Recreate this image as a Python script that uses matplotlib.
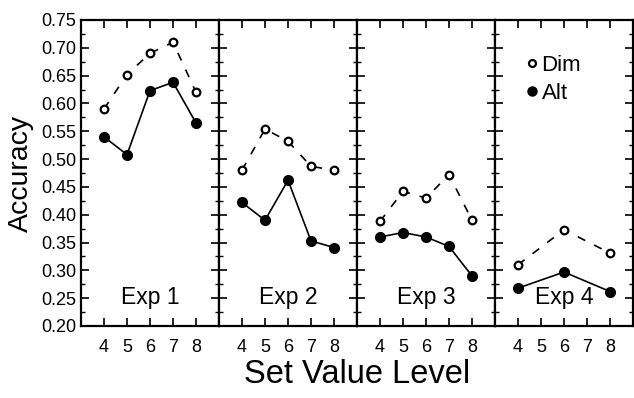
import matplotlib.pyplot as plt
from matplotlib.lines import Line2D
from matplotlib.ticker import MultipleLocator

plt.rcParams['font.family'] = ['Liberation Sans', 'DejaVu Sans']

# set value levels per experiment
levels = [[4, 5, 6, 7, 8], [4, 5, 6, 7, 8], [4, 5, 6, 7, 8], [4, 6, 8]]
exp_names = ['Exp 1', 'Exp 2', 'Exp 3', 'Exp 4']

# accuracy, dimension condition
dim_acc = [[0.590, 0.652, 0.690, 0.710, 0.620],
           [0.480, 0.554, 0.532, 0.487, 0.480],
           [0.388, 0.442, 0.430, 0.472, 0.390],
           [0.310, 0.373, 0.331]]

# accuracy, alternative condition
alt_acc = [[0.540, 0.508, 0.623, 0.638, 0.565],
           [0.422, 0.390, 0.462, 0.353, 0.341],
           [0.360, 0.368, 0.360, 0.343, 0.290],
           [0.268, 0.297, 0.262]]

fig = plt.figure(figsize=(6.34, 3.98), dpi=100)
left, bottom, height = 81 / 634, 1 - 326 / 398, 306 / 398
width = 138 / 634

axes = []
for i in range(4):
    ax = fig.add_axes([left + i * width, bottom, width, height])
    axes.append(ax)
    x = levels[i]
    ax.plot(x, dim_acc[i], color='black', lw=1.2, linestyle=(0, (5, 6)),
            marker='o', markersize=5.5, markerfacecolor='white',
            markeredgecolor='black', markeredgewidth=1.6)
    ax.plot(x, alt_acc[i], color='black', lw=1.2, marker='o',
            markersize=7, markerfacecolor='black', markeredgecolor='black')
    ax.set_xlim(3, 9)
    ax.set_ylim(0.20, 0.75)
    ax.set_xticks([4, 5, 6, 7, 8])
    ax.yaxis.set_major_locator(MultipleLocator(0.05))
    ax.yaxis.set_minor_locator(MultipleLocator(0.025))
    ax.tick_params(axis='both', which='major', direction='in', length=6,
                   width=1.2, top=True, right=True, labelsize=13)
    ax.tick_params(axis='both', which='minor', direction='in', length=3,
                   width=1, top=True, right=True)
    ax.tick_params(axis='x', pad=9)
    for s in ax.spines.values():
        s.set_linewidth(1.6)
    if i == 0:
        ax.set_yticklabels(['%.2f' % v for v in ax.get_yticks()])
        ax.set_ylabel('Accuracy', fontsize=20.5, labelpad=5)
    else:
        ax.tick_params(axis='y', labelleft=False)
    ax.text(0.5, 0.055, exp_names[i], transform=ax.transAxes,
            ha='center', va='bottom', fontsize=16.5)

handles = [Line2D([], [], linestyle='none', marker='o', markersize=5,
                  markerfacecolor='white', markeredgecolor='black',
                  markeredgewidth=1.6),
           Line2D([], [], linestyle='none', marker='o', markersize=6.5,
                  markerfacecolor='black', markeredgecolor='black')]
axes[3].legend(handles, ['Dim', 'Alt'], loc='upper left',
               bbox_to_anchor=(0.16, 0.915), frameon=False, fontsize=16,
               handlelength=0.5, handletextpad=0.2, labelspacing=0.3,
               borderaxespad=0)

fig.text(left + 2 * width, 0.02, 'Set Value Level', ha='center',
         va='bottom', fontsize=23.5)

plt.savefig('out.png', dpi=100)
